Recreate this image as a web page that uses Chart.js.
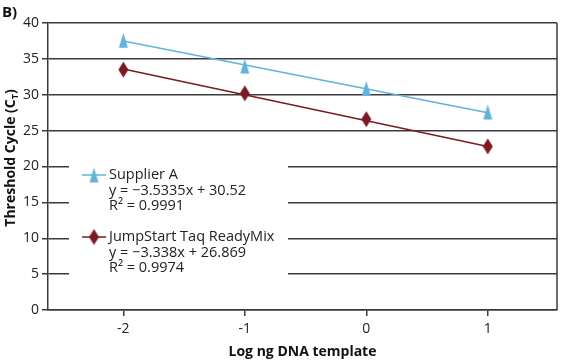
<!DOCTYPE html>
<html>
<head>
<meta charset="utf-8">
<script src="https://cdn.jsdelivr.net/npm/chart.js@4.4.0/dist/chart.umd.min.js"></script>
<style>
    html, body { margin: 0; padding: 0; background: #fff; }
    #wrap { width: 562px; height: 360px; position: relative; }
</style>
</head>
<body>
<div id="wrap"><canvas id="qpcrChart"></canvas></div>
<script>
// values
const logTemplate = [-2, -1, 0, 1];
const supplierA = [37.6, 34.0, 30.9, 27.6];
const jumpStart = [33.5, 30.2, 26.6, 22.8];
// trendline ends as drawn in the picture (x = -2 and x = 1)
const trendX = [-2, 1];
const supplierATrend = [37.5, 27.5];
const jumpStartTrend = [33.6, 22.8];
const yTicks = [0, 5, 10, 15, 20, 25, 30, 35, 40];
const legendLines = {
    supplier: ['Supplier A', 'y = \u22123.5335x + 30.52', 'R\u00B2 = 0.9991'],
    jump: ['JumpStart Taq ReadyMix', 'y = \u22123.338x + 26.869', 'R\u00B2 = 0.9974']
};

const blue = '#62b3d9';
const darkRed = '#7b1a22';
const FONT = '"Open Sans", "DejaVu Sans", sans-serif';

function makeMarker(kind, color) {
    const c = document.createElement('canvas');
    c.width = 11;
    c.height = 17;
    const g = c.getContext('2d');
    g.fillStyle = color;
    g.beginPath();
    if (kind === 'triangle') {
        g.moveTo(5.5, 1);
        g.lineTo(10, 16);
        g.lineTo(1, 16);
    } else {
        g.moveTo(5.5, 0.5);
        g.lineTo(10.5, 8.5);
        g.lineTo(5.5, 16.5);
        g.lineTo(0.5, 8.5);
    }
    g.closePath();
    g.fill();
    return c;
}

const triangleImg = makeMarker('triangle', blue);
const diamondImg = makeMarker('diamond', darkRed);

const toPoints = (xs, ys) => xs.map((x, i) => ({ x: x, y: ys[i] }));

const extrasPlugin = {
    id: 'extras',
    afterDraw(chart) {
        const ctx = chart.ctx;
        const area = chart.chartArea;
        ctx.save();

        // right frame line
        ctx.strokeStyle = '#3a3a3a';
        ctx.lineWidth = 1.5;
        ctx.beginPath();
        ctx.moveTo(area.right, area.top);
        ctx.lineTo(area.right, area.bottom);
        ctx.stroke();

        // panel label
        ctx.fillStyle = '#111';
        ctx.font = 'bold 15px ' + FONT;
        ctx.textBaseline = 'alphabetic';
        ctx.textAlign = 'left';
        ctx.fillText('B)', 2, 17);

        // y title with subscript T
        ctx.save();
        ctx.translate(15, 158);
        ctx.rotate(-Math.PI / 2);
        ctx.font = 'bold 14px ' + FONT;
        const main = 'Threshold Cycle (C';
        const wMain = ctx.measureText(main).width;
        ctx.font = 'bold 9px ' + FONT;
        const wSub = ctx.measureText('T').width;
        ctx.font = 'bold 14px ' + FONT;
        const wEnd = ctx.measureText(')').width;
        let x0 = -(wMain + wSub + wEnd) / 2;
        ctx.textAlign = 'left';
        ctx.fillText(main, x0, 0);
        ctx.font = 'bold 9px ' + FONT;
        ctx.fillText('T', x0 + wMain, 3);
        ctx.font = 'bold 14px ' + FONT;
        ctx.fillText(')', x0 + wMain + wSub, 0);
        ctx.restore();

        // legend box
        ctx.fillStyle = '#fff';
        ctx.fillRect(69, 157, 219, 128);
        const entries = [
            { lines: legendLines.supplier, color: blue, img: triangleImg, y: 175 },
            { lines: legendLines.jump, color: darkRed, img: diamondImg, y: 237 }
        ];
        entries.forEach(e => {
            ctx.strokeStyle = e.color;
            ctx.lineWidth = 1.5;
            ctx.beginPath();
            ctx.moveTo(82, e.y);
            ctx.lineTo(106, e.y);
            ctx.stroke();
            ctx.drawImage(e.img, 94 - e.img.width / 2, e.y - e.img.height / 2);
            ctx.fillStyle = '#222';
            ctx.font = '14.5px ' + FONT;
            ctx.textBaseline = 'middle';
            e.lines.forEach((t, i) => {
                ctx.fillText(t, 109, e.y + i * 15.5);
            });
        });
        ctx.restore();
    }
};

const ctx = document.getElementById('qpcrChart');
ctx.chart = new Chart(ctx, {
    type: 'scatter',
    data: {
        datasets: [
            {
                label: 'Supplier A trend',
                data: toPoints(trendX, supplierATrend),
                showLine: true,
                borderColor: blue,
                borderWidth: 1.5,
                pointRadius: 0,
                order: 3
            },
            {
                label: 'JumpStart trend',
                data: toPoints(trendX, jumpStartTrend),
                showLine: true,
                borderColor: darkRed,
                borderWidth: 1.5,
                pointRadius: 0,
                order: 4
            },
            {
                label: 'Supplier A',
                data: toPoints(logTemplate, supplierA),
                pointStyle: triangleImg,
                order: 1
            },
            {
                label: 'JumpStart Taq ReadyMix',
                data: toPoints(logTemplate, jumpStart),
                pointStyle: diamondImg,
                order: 2
            }
        ]
    },
    options: {
        responsive: true,
        maintainAspectRatio: false,
        animation: false,
        layout: { padding: { top: 23, right: 4, left: 0, bottom: 0 } },
        plugins: {
            legend: { display: false },
            tooltip: { enabled: false }
        },
        scales: {
            x: {
                type: 'linear',
                min: -2.62,
                max: 1.57,
                afterBuildTicks: (scale) => {
                    scale.ticks = logTemplate.map(v => ({ value: v }));
                },
                afterFit: (scale) => { scale.height = 50; },
                grid: {
                    drawOnChartArea: false,
                    drawTicks: true,
                    tickLength: 6,
                    color: '#3a3a3a',
                    lineWidth: 1.5
                },
                border: { color: '#3a3a3a', width: 1.5 },
                ticks: {
                    color: '#222',
                    font: { family: FONT, size: 14 },
                    padding: 5
                },
                title: {
                    display: true,
                    text: 'Log ng DNA template',
                    color: '#111',
                    font: { family: FONT, size: 14, weight: 'bold' },
                    padding: { top: 1, bottom: 0 }
                }
            },
            y: {
                min: 0,
                max: 40,
                afterBuildTicks: (scale) => {
                    scale.ticks = yTicks.map(v => ({ value: v }));
                },
                afterFit: (scale) => { scale.width = 48; },
                grid: {
                    color: '#3a3a3a',
                    lineWidth: 1.5,
                    drawTicks: true,
                    tickLength: 6
                },
                border: { color: '#3a3a3a', width: 1.5 },
                ticks: {
                    color: '#222',
                    font: { family: FONT, size: 14 },
                    padding: 3
                }
            }
        }
    },
    plugins: [extrasPlugin]
});
</script>
</body>
</html>
